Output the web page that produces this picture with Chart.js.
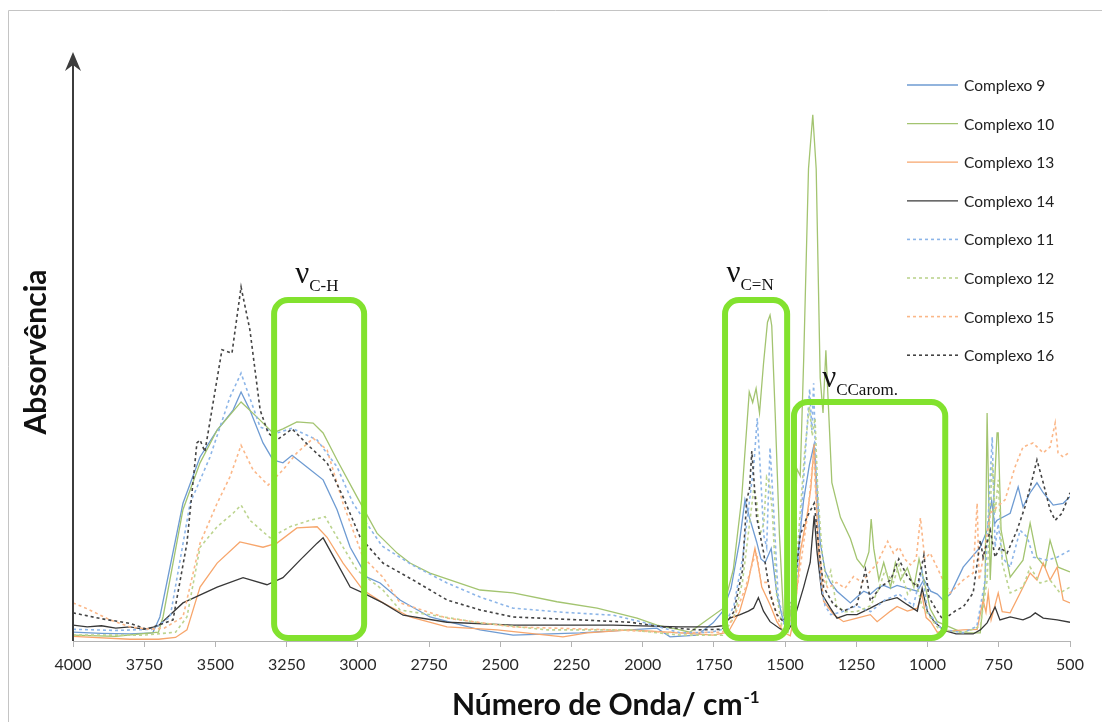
<!DOCTYPE html>
<html>
<head>
<meta charset="utf-8">
<script src="https://cdn.jsdelivr.net/npm/chart.js@4.4.0/dist/chart.umd.min.js"></script>
<style>
  html, body { margin: 0; padding: 0; background: #fff; }
  canvas { display: block; }
</style>
</head>
<body>
<canvas id="ir" width="1102" height="722"></canvas>
<script>
// IR spectra of complexos 9-16 — absorbance in arbitrary units (0-100 = axis height)

const seriesNames = ['Complexo 9', 'Complexo 10', 'Complexo 13', 'Complexo 14',
                     'Complexo 11', 'Complexo 12', 'Complexo 15', 'Complexo 16'];
const xTicks = [4000, 3750, 3500, 3250, 3000, 2750, 2500, 2250, 2000, 1750, 1500, 1250, 1000, 750, 500];

// [wavenumber cm-1, absorbance]
const complexo9 = [[4000,1.5],[3900,1.3],[3800,1.2],[3720,1.4],[3695,4.1],[3614,23.5],[3554,31.4],[3494,36.0],[3438,39.4],[3410,42.5],[3379,39.4],[3333,33.8],[3298,30.9],[3263,30.4],[3231,31.7],[3179,29.7],[3122,27.5],[3073,22.4],[3027,16.0],[2968,10.9],[2922,9.9],[2852,7.0],[2747,4.1],[2571,1.9],[2455,1.0],[2220,1.4],[2044,1.9],[1950,2.2],[1904,0.7],[1809,1.0],[1753,3.1],[1720,5.0],[1690,9.0],[1660,17.0],[1641,24.1],[1625,21.0],[1600,16.9],[1585,14.0],[1570,13.4],[1549,15.8],[1529,8.0],[1506,3.3],[1490,2.5],[1471,7.0],[1455,15.0],[1435,24.1],[1415,30.0],[1398,33.6],[1388,26.0],[1377,16.9],[1360,12.0],[1341,10.0],[1318,8.5],[1295,7.5],[1271,6.5],[1248,7.5],[1224,8.5],[1201,8.0],[1177,9.0],[1154,9.5],[1130,9.0],[1107,9.5],[1071,9.0],[1036,8.5],[1013,10.5],[989,8.5],[966,8.0],[946,7.0],[920,8.0],[875,12.6],[815,16.0],[790,19.0],[775,24.0],[765,20.0],[756,20.6],[710,21.8],[682,26.3],[665,22.9],[640,25.3],[616,27.0],[594,25.3],[559,23.2],[524,23.5],[500,24.6]];
const complexo10 = [[4000,1.0],[3850,0.8],[3700,1.5],[3684,4.1],[3614,22.4],[3554,30.4],[3494,36.0],[3410,40.8],[3354,38.2],[3298,35.5],[3263,36.2],[3214,37.4],[3157,37.2],[3122,35.5],[3073,30.9],[3003,24.6],[2933,18.4],[2862,15.0],[2817,13.3],[2747,11.6],[2571,8.7],[2455,8.2],[2301,6.7],[2160,5.6],[2020,3.9],[1950,2.7],[1869,1.9],[1835,1.5],[1717,5.6],[1682,12.2],[1653,24.1],[1626,42.5],[1614,40.7],[1602,43.1],[1590,38.9],[1576,47.3],[1562,54.4],[1553,55.6],[1547,53.8],[1535,38.9],[1520,18.1],[1506,4.5],[1488,2.1],[1471,9.2],[1459,29.4],[1447,28.2],[1435,47.9],[1418,80.6],[1403,89.8],[1391,80.6],[1377,44.9],[1367,38.9],[1357,49.6],[1347,38.9],[1336,27.0],[1306,21.1],[1271,17.5],[1248,14.0],[1224,12.5],[1206,15.2],[1198,20.8],[1189,15.8],[1171,10.4],[1154,13.4],[1130,9.2],[1113,13.4],[1095,10.4],[1071,12.5],[1048,9.2],[1030,14.0],[1013,10.4],[991,5.5],[966,3.3],[875,1.4],[815,1.4],[798,10.4],[791,38.9],[780,10.4],[770,21.8],[756,35.5],[752,35.5],[742,18.9],[710,10.9],[665,13.8],[640,20.1],[616,14.3],[587,12.6],[570,17.2],[542,12.6],[500,11.8]];
const complexo13 = [[4000,0.8],[3800,0.3],[3700,0.3],[3640,0.6],[3600,1.9],[3554,9.2],[3494,13.3],[3414,16.9],[3333,16.0],[3284,16.7],[3214,19.3],[3143,19.5],[3108,17.7],[3052,13.3],[2982,8.7],[2912,6.5],[2817,4.1],[2687,2.4],[2511,1.9],[2280,0.7],[2195,1.4],[2044,1.9],[1869,1.4],[1753,1.0],[1700,1.5],[1660,5.0],[1630,10.0],[1606,15.8],[1595,13.0],[1582,9.2],[1553,6.2],[1529,3.3],[1506,1.5],[1482,0.9],[1465,5.0],[1447,15.2],[1424,21.1],[1410,26.0],[1398,33.6],[1383,15.2],[1365,6.8],[1330,4.5],[1295,3.3],[1248,3.9],[1201,4.5],[1177,3.3],[1130,5.1],[1107,5.9],[1071,5.1],[1036,5.6],[1020,8.0],[1005,4.0],[989,3.3],[966,1.5],[875,1.9],[826,2.0],[805,7.0],[795,4.9],[787,8.2],[777,3.6],[752,8.2],[738,5.0],[710,4.8],[675,8.2],[640,11.6],[616,10.4],[594,13.3],[570,10.4],[545,12.6],[524,7.0],[500,6.5]];
const complexo14 = [[4000,2.7],[3950,2.4],[3900,2.6],[3850,2.2],[3800,2.4],[3750,2.0],[3700,2.6],[3614,6.5],[3494,9.2],[3403,10.8],[3319,9.6],[3263,10.8],[3203,13.8],[3143,16.7],[3122,17.6],[3073,13.3],[3027,9.2],[2982,8.2],[2912,6.5],[2841,4.4],[2687,3.2],[2455,2.7],[2104,2.7],[1869,2.4],[1753,2.4],[1720,2.6],[1694,3.9],[1658,4.5],[1629,5.1],[1611,5.6],[1594,7.4],[1576,5.1],[1553,3.3],[1518,2.1],[1494,1.5],[1471,3.3],[1435,9.2],[1412,13.4],[1398,21.4],[1388,15.2],[1371,8.0],[1341,5.6],[1318,3.9],[1283,4.5],[1248,4.5],[1201,5.6],[1154,6.8],[1107,7.4],[1071,6.2],[1036,5.1],[1019,9.0],[1001,5.1],[977,3.3],[942,1.8],[900,1.2],[840,1.2],[815,1.9],[791,3.1],[763,5.8],[746,3.6],[710,4.1],[665,3.6],[640,4.1],[622,4.8],[594,3.9],[545,3.6],[500,3.2]];
const complexo11 = [[4000,2.0],[3850,1.8],[3720,2.0],[3659,4.1],[3589,23.5],[3519,31.4],[3449,41.6],[3410,45.7],[3343,36.5],[3284,35.5],[3231,36.3],[3143,34.3],[3073,29.7],[3017,23.5],[2915,16.2],[2810,13.0],[2687,9.9],[2571,7.5],[2455,5.6],[2280,4.9],[2104,4.4],[1999,3.2],[1869,1.4],[1760,1.5],[1720,2.0],[1680,6.0],[1650,14.0],[1625,24.0],[1610,30.0],[1598,38.0],[1588,30.0],[1575,18.0],[1565,16.0],[1553,33.0],[1540,22.0],[1525,8.0],[1505,3.0],[1490,2.0],[1470,5.0],[1450,16.0],[1432,30.0],[1414,43.0],[1406,36.0],[1400,44.0],[1390,25.0],[1375,10.0],[1360,6.0],[1340,4.5],[1300,5.0],[1250,6.0],[1200,5.0],[1150,7.0],[1100,8.0],[1050,6.0],[1020,12.0],[1000,5.0],[950,2.0],[875,1.4],[827,2.5],[798,10.4],[773,34.8],[763,16.0],[752,20.0],[738,14.3],[710,12.6],[675,18.9],[650,17.7],[628,14.3],[580,13.8],[545,14.3],[500,15.5]];
const complexo12 = [[4000,1.0],[3750,1.0],[3640,1.5],[3600,4.1],[3554,16.0],[3494,19.5],[3438,21.8],[3410,23.2],[3379,20.6],[3308,17.6],[3238,19.5],[3168,20.6],[3115,21.2],[3073,17.7],[3003,12.1],[2912,8.7],[2852,5.3],[2571,3.1],[2336,1.9],[2044,1.9],[1869,1.0],[1720,1.0],[1680,4.0],[1650,10.0],[1625,20.0],[1610,26.0],[1600,24.0],[1590,18.0],[1575,20.0],[1565,28.0],[1555,27.0],[1545,22.0],[1530,8.0],[1510,2.0],[1490,1.5],[1470,6.0],[1450,20.0],[1432,32.0],[1415,40.0],[1405,35.0],[1395,38.0],[1385,25.0],[1370,15.0],[1355,10.0],[1340,12.0],[1320,6.0],[1290,5.0],[1250,5.0],[1200,6.0],[1170,9.0],[1150,12.0],[1120,10.0],[1100,13.0],[1070,8.0],[1040,10.0],[1020,6.0],[990,4.0],[960,2.0],[875,1.4],[815,2.5],[791,10.4],[773,30.4],[763,21.8],[752,27.5],[738,13.3],[710,8.2],[665,9.2],[640,12.6],[605,9.9],[570,10.4],[535,8.2],[500,9.2]];
const complexo15 = [[4000,6.5],[3950,5.5],[3870,3.6],[3800,2.4],[3730,2.0],[3680,2.2],[3614,4.1],[3554,16.7],[3494,23.5],[3449,28.0],[3410,33.4],[3368,29.2],[3315,26.6],[3263,29.2],[3214,32.1],[3157,34.6],[3108,32.6],[3052,23.5],[2982,14.3],[2912,10.9],[2852,6.5],[2687,3.9],[2455,2.4],[2104,1.9],[1869,1.4],[1720,1.5],[1680,4.0],[1640,9.0],[1610,14.0],[1600,15.0],[1585,10.0],[1560,10.0],[1540,6.0],[1515,2.5],[1500,1.5],[1470,5.0],[1440,15.0],[1420,22.0],[1400,32.0],[1385,18.0],[1370,11.0],[1350,9.0],[1320,10.0],[1290,9.0],[1260,11.0],[1230,10.0],[1200,12.0],[1180,13.0],[1160,15.0],[1140,17.0],[1120,15.0],[1100,16.0],[1080,14.0],[1060,13.0],[1040,14.0],[1025,21.0],[1010,14.0],[991,15.0],[967,12.6],[946,10.4],[921,8.2],[875,10.4],[840,11.6],[826,23.5],[819,10.4],[798,16.0],[780,21.8],[756,22.9],[728,24.1],[693,29.7],[665,33.1],[630,33.8],[594,32.1],[570,33.1],[552,37.2],[542,32.1],[524,31.4],[500,32.3]];
const complexo16 = [[4000,4.8],[3900,3.8],[3800,3.0],[3740,2.0],[3649,3.6],[3600,16.7],[3565,33.8],[3554,34.3],[3537,32.3],[3477,49.7],[3442,49.1],[3410,60.4],[3379,53.1],[3343,39.4],[3315,35.5],[3284,34.3],[3231,36.2],[3168,33.1],[3108,30.4],[3052,24.6],[2992,17.7],[2912,13.3],[2806,10.4],[2687,7.0],[2571,5.3],[2455,4.1],[2220,3.6],[2044,3.2],[1929,2.4],[1809,1.9],[1720,2.0],[1680,5.0],[1650,12.0],[1635,24.0],[1625,26.0],[1617,32.4],[1600,21.1],[1576,15.2],[1553,8.0],[1529,4.5],[1506,3.3],[1471,7.4],[1447,18.1],[1424,21.1],[1398,23.5],[1383,16.4],[1365,9.2],[1330,6.2],[1295,5.1],[1248,6.2],[1218,12.2],[1201,6.8],[1166,9.2],[1130,10.4],[1101,14.0],[1071,11.0],[1036,9.2],[1013,14.6],[995,7.4],[966,5.1],[946,3.6],[898,5.3],[875,5.8],[840,8.2],[815,17.2],[805,14.3],[780,18.9],[763,14.3],[746,16.0],[721,15.0],[686,18.9],[658,22.9],[633,27.5],[616,30.9],[594,27.0],[570,22.4],[552,20.6],[528,21.8],[500,25.3]];

// highlighted bands: wavenumber range, box top (absorbance), label anchor
const bands = [
  { sub: 'C-H',     from: 3294, to: 2978, top: 58.2, labelAt: 3220, labelY: 61.1 },
  { sub: 'C=N',     from: 1711, to: 1493, top: 58.2, labelAt: 1706, labelY: 61.3 },
  { sub: 'CCarom.', from: 1469, to: 938,  top: 40.8, labelAt: 1370, labelY: 43.3 },
];

const allSeries = [complexo9, complexo10, complexo13, complexo14, complexo11, complexo12, complexo15, complexo16];
const lineColors = ['#6e9bd2', '#a3c470', '#f7a66c', '#383838', '#8cb5e8', '#bcd48f', '#fbb788', '#444444'];
const isDashed = [false, false, false, false, true, true, true, true];

const datasets = allSeries.map((s, i) => ({
  label: seriesNames[i],
  data: s.map(p => ({ x: p[0], y: p[1] })),
  borderColor: lineColors[i],
  borderWidth: isDashed[i] ? 1.6 : 1.3,
  borderDash: isDashed[i] ? [3, 3] : [],
  pointRadius: 0,
  tension: 0,
  order: allSeries.length - i,
}));

const decor = {
  id: 'decor',
  beforeDraw(chart) {
    const ctx = chart.ctx;
    ctx.save();
    ctx.strokeStyle = '#c4c4c4';
    ctx.lineWidth = 1;
    ctx.beginPath();
    ctx.moveTo(8.5, 722); ctx.lineTo(8.5, 10.5); ctx.lineTo(1102, 10.5);
    ctx.stroke();
    ctx.restore();
  },
  afterDatasetsDraw(chart) {
    const ctx = chart.ctx, xs = chart.scales.x, ys = chart.scales.y;
    const area = chart.chartArea;
    ctx.save();

    // y axis with arrow head
    ctx.strokeStyle = '#3c3c3c';
    ctx.fillStyle = '#3c3c3c';
    ctx.lineWidth = 2;
    ctx.beginPath();
    ctx.moveTo(area.left, area.bottom); ctx.lineTo(area.left, area.top + 6);
    ctx.stroke();
    ctx.beginPath();
    ctx.moveTo(area.left, area.top - 3);
    ctx.lineTo(area.left - 8, area.top + 16);
    ctx.lineTo(area.left, area.top + 10);
    ctx.lineTo(area.left + 8, area.top + 16);
    ctx.closePath();
    ctx.fill();

    // band boxes and labels
    ctx.strokeStyle = '#82e22e';
    ctx.lineWidth = 6;
    bands.forEach(b => {
      const x1 = xs.getPixelForValue(b.from), x2 = xs.getPixelForValue(b.to);
      const y1 = ys.getPixelForValue(b.top), y2 = area.bottom - 3;
      ctx.beginPath();
      ctx.roundRect(x1, y1, x2 - x1, y2 - y1, 14);
      ctx.stroke();

      const lx = xs.getPixelForValue(b.labelAt), ly = ys.getPixelForValue(b.labelY);
      ctx.fillStyle = '#111';
      ctx.textBaseline = 'alphabetic';
      ctx.textAlign = 'left';
      ctx.font = '31px "Liberation Serif"';
      ctx.fillText('\u03bd', lx, ly);
      const w = ctx.measureText('\u03bd').width;
      ctx.font = '17px "Liberation Serif"';
      ctx.fillText(b.sub, lx + w, ly + 8);
    });

    // legend
    ctx.font = '15.5px Lato';
    ctx.textBaseline = 'middle';
    chart.data.datasets.forEach((d, i) => {
      const y = 85 + i * 38.6;
      ctx.strokeStyle = d.borderColor;
      ctx.lineWidth = d.borderWidth;
      ctx.setLineDash(d.borderDash);
      ctx.beginPath();
      ctx.moveTo(907, y); ctx.lineTo(958, y);
      ctx.stroke();
      ctx.setLineDash([]);
      ctx.fillStyle = '#222';
      ctx.fillText(d.label, 964, y + 1);
    });

    // axis titles
    ctx.fillStyle = '#111';
    ctx.font = 'bold 30px Lato';
    ctx.textBaseline = 'alphabetic';
    const main = 'Número de Onda/ cm';
    ctx.fillText(main, 452, 715);
    const mw = ctx.measureText(main).width;
    ctx.font = 'bold 17px Lato';
    ctx.fillText('-1', 452 + mw + 1, 703);

    ctx.translate(46, 352);
    ctx.rotate(-Math.PI / 2);
    ctx.font = 'bold 30px Lato';
    ctx.textAlign = 'center';
    ctx.fillText('Absorvência', 0, 0);
    ctx.restore();
  },
};

new Chart(document.getElementById('ir'), {
  type: 'line',
  data: { datasets },
  options: {
    responsive: false,
    animation: false,
    layout: { padding: { left: 73, right: 32, top: 55, bottom: 0 } },
    plugins: { legend: { display: false }, tooltip: { enabled: false } },
    scales: {
      x: {
        type: 'linear',
        reverse: true,
        min: 500,
        max: 4000,
        afterBuildTicks: s => { s.ticks = xTicks.map(v => ({ value: v })); },
        afterFit: s => { s.height = 81; },
        grid: { drawOnChartArea: false, drawTicks: true, tickLength: 6, color: '#b4b4b4' },
        border: { color: '#b4b4b4', width: 1 },
        ticks: {
          callback: v => String(v),
          font: { family: 'Lato', size: 16 },
          color: '#2a2a2a',
          padding: 8,
          maxRotation: 0,
          autoSkip: false,
        },
      },
      y: { display: false, min: 0, max: 100 },
    },
  },
  plugins: [decor],
});
</script>
</body>
</html>
